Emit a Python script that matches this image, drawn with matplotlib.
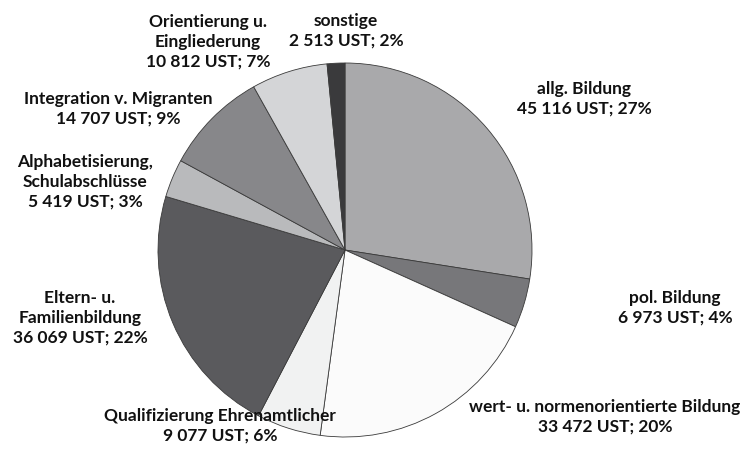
import matplotlib
matplotlib.use("Agg")
import matplotlib.pyplot as plt

# data, clockwise from 12 o'clock
labels = ["allg. Bildung", "pol. Bildung", "wert- u. normenorientierte Bildung",
          "Qualifizierung Ehrenamtlicher", "Eltern- u.\nFamilienbildung",
          "Alphabetisierung,\nSchulabschlüsse", "Integration v. Migranten",
          "Orientierung u.\nEingliederung", "sonstige"]
ust = [45116, 6973, 33472, 9077, 36069, 5419, 14707, 10812, 2513]
pct = [27, 4, 20, 6, 22, 3, 9, 7, 2]
colors = ["#a9a9ab", "#77777a", "#fbfbfb", "#f1f2f2", "#5a5a5d",
          "#b9babc", "#87878a", "#d4d5d7", "#3a3a3c"]

# label positions (pixel coordinates of the text centre)
label_pos = [(584, 99), (675, 308), (605, 417), (220, 426), (80, 318),
             (85, 182), (118, 109), (208, 42), (346, 31)]

W, H = 743, 462
fig = plt.figure(figsize=(W / 100, H / 100), dpi=100)
ax = fig.add_axes([0, 0, 1, 1])

ax.pie(ust, colors=colors, startangle=90, counterclock=False,
       center=(345, H - 250), radius=187,
       wedgeprops=dict(edgecolor="#3a3a3a", linewidth=0.6))
ax.set_xlim(0, W)
ax.set_ylim(0, H)
ax.set_aspect("equal")
ax.axis("off")

def fmt(v):
    return f"{v:,}".replace(",", " ")

for lab, v, p, (px, py) in zip(labels, ust, pct, label_pos):
    ax.text(px, H - py, f"{lab}\n{fmt(v)} UST; {p}%", ha="center", va="center",
            fontsize=12.5, fontweight="bold", family="Lato",
            color="#111111", linespacing=1.3)

fig.savefig("out.png", dpi=100)
